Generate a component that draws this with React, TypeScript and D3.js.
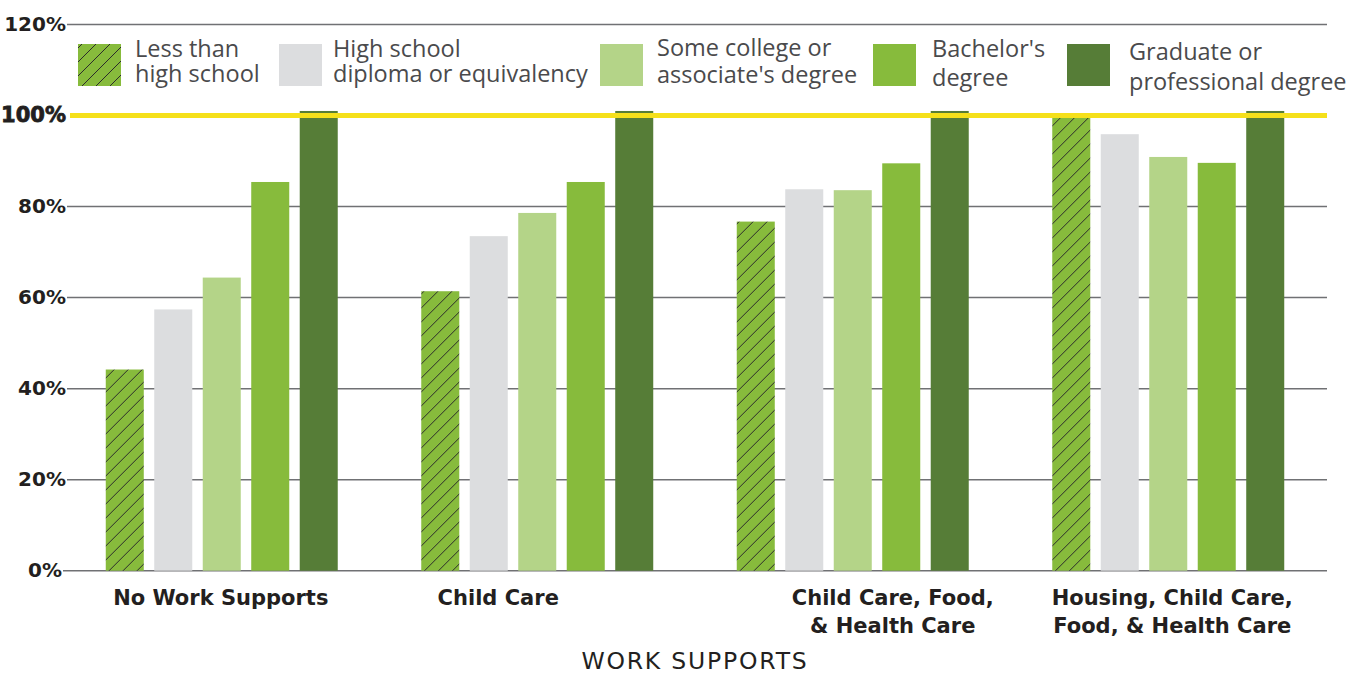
import React from "react";
import * as d3 from "d3";

const categories = [
  "No Work Supports",
  "Child Care",
  "Child Care, Food, & Health Care",
  "Housing, Child Care, Food, & Health Care",
];
const categoryLines = [
  ["No Work Supports"],
  ["Child Care"],
  ["Child Care, Food,", "& Health Care"],
  ["Housing, Child Care,", "Food, & Health Care"],
];
const seriesNames = [
  "Less than high school",
  "High school diploma or equivalency",
  "Some college or associate's degree",
  "Bachelor's degree",
  "Graduate or professional degree",
];
const legendLines = [
  ["Less than", "high school"],
  ["High school", "diploma or equivalency"],
  ["Some college or", "associate's degree"],
  ["Bachelor's", "degree"],
  ["Graduate or", "professional degree"],
];
const lessThanHS = [44.2, 61.4, 76.7, 99.5];
const highSchool = [57.4, 73.5, 83.8, 95.9];
const someCollege = [64.4, 78.6, 83.6, 90.9];
const bachelors = [85.4, 85.4, 89.5, 89.6];
const graduate = [101, 101, 101, 101];
const yTicks = [0, 20, 40, 60, 80, 100, 120];
const referenceValue = 100;
const xAxisTitle = "WORK SUPPORTS";

const seriesValues = [lessThanHS, highSchool, someCollege, bachelors, graduate];

// layout / style constants
const W = 1369;
const H = 675;
const colors = ["#87bb3c", "#dcdddf", "#b4d488", "#87bb3c", "#567d37"];
const legendLayout = [
  { sx: 78, tx: 135, b1: 57, b2: 82 },
  { sx: 279, tx: 333, b1: 57, b2: 82 },
  { sx: 600, tx: 657, b1: 56, b2: 83 },
  { sx: 873, tx: 932, b1: 57, b2: 86 },
  { sx: 1067, tx: 1129, b1: 60, b2: 90 },
];
const labelDx = [-1, -39, 40, 4];

export default function App() {
  const y = d3.scaleLinear().domain([0, 120]).range([570.7, 24.5]);
  const x0 = d3
    .scaleBand<string>()
    .domain(categories)
    .range([64, 1326])
    .paddingInner(0.2647)
    .paddingOuter(0.13235);
  const x1 = d3
    .scaleBand<string>()
    .domain(seriesNames)
    .range([0, x0.bandwidth()])
    .paddingInner(0.216)
    .paddingOuter(0);

  const gridX1 = 67;
  const gridX2 = 1327;
  const sans = "'DejaVu Sans', sans-serif";
  const legendFont = "'Open Sans', sans-serif";

  return (
    <svg
      width={W}
      height={H}
      style={{ position: "absolute", left: 0, top: 0, background: "#fff" }}
    >
      <defs>
        <pattern
          id="hatch"
          patternUnits="userSpaceOnUse"
          width={14}
          height={14}
        >
          <rect width={14} height={14} fill={colors[0]} />
          <path
            d="M0,14 L14,0 M-3.5,3.5 L3.5,-3.5 M10.5,17.5 L17.5,10.5"
            stroke="#2b2b2b"
            strokeWidth={1}
          />
        </pattern>
      </defs>

      {/* gridlines */}
      {yTicks
        .filter((t) => t !== referenceValue)
        .map((t) => (
          <line
            key={t}
            x1={t === 0 ? 63 : gridX1}
            x2={gridX2}
            y1={y(t)}
            y2={y(t)}
            stroke="#707174"
            strokeWidth={1.5}
          />
        ))}

      {/* y tick labels */}
      {yTicks.map((t) => (
        <text
          key={t}
          x={t === 0 ? 62 : 66}
          y={y(t) + 6}
          textAnchor="end"
          fontFamily={sans}
          fontWeight="bold"
          fontSize={t === referenceValue ? 21 : 20}
          fill="#231f20"
          stroke={t === referenceValue ? "#231f20" : "none"}
          strokeWidth={t === referenceValue ? 0.8 : 0}
        >
          {t}%
        </text>
      ))}

      {/* bars */}
      {categories.map((c, ci) => (
        <g key={c} transform={`translate(${x0(c)},0)`}>
          {seriesNames.map((s, si) => {
            const v = seriesValues[si][ci];
            return (
              <rect
                key={s}
                x={x1(s)}
                y={y(v)}
                width={x1.bandwidth()}
                height={y(0) - y(v)}
                fill={si === 0 ? "url(#hatch)" : colors[si]}
              />
            );
          })}
        </g>
      ))}

      {/* reference line */}
      <line
        x1={70}
        x2={gridX2}
        y1={y(referenceValue)}
        y2={y(referenceValue)}
        stroke="#f5e01a"
        strokeWidth={5}
      />

      {/* legend */}
      {seriesNames.map((s, si) => {
        const L = legendLayout[si];
        return (
          <g key={s}>
            <rect
              x={L.sx}
              y={44}
              width={43}
              height={42}
              fill={si === 0 ? "url(#hatch)" : colors[si]}
            />
            <text x={L.tx} y={L.b1} fontFamily={legendFont} fontSize={23.5} fill="#4a4a4c">
              {legendLines[si][0]}
            </text>
            <text x={L.tx} y={L.b2} fontFamily={legendFont} fontSize={23.5} fill="#4a4a4c">
              {legendLines[si][1]}
            </text>
          </g>
        );
      })}

      {/* x labels */}
      {categories.map((c, ci) => {
        const cx = (x0(c) as number) + x0.bandwidth() / 2 + labelDx[ci];
        return (
          <g key={c}>
            {categoryLines[ci].map((line, li) => (
              <text
                key={li}
                x={cx}
                y={605 + li * 28}
                textAnchor="middle"
                fontFamily={sans}
                fontWeight="bold"
                fontSize={21}
                fill="#231f20"
              >
                {line}
              </text>
            ))}
          </g>
        );
      })}

      <text
        x={695}
        y={669}
        textAnchor="middle"
        fontFamily={sans}
        fontSize={23.5}
        letterSpacing={1.8}
        fill="#231f20"
      >
        {xAxisTitle}
      </text>
    </svg>
  );
}
